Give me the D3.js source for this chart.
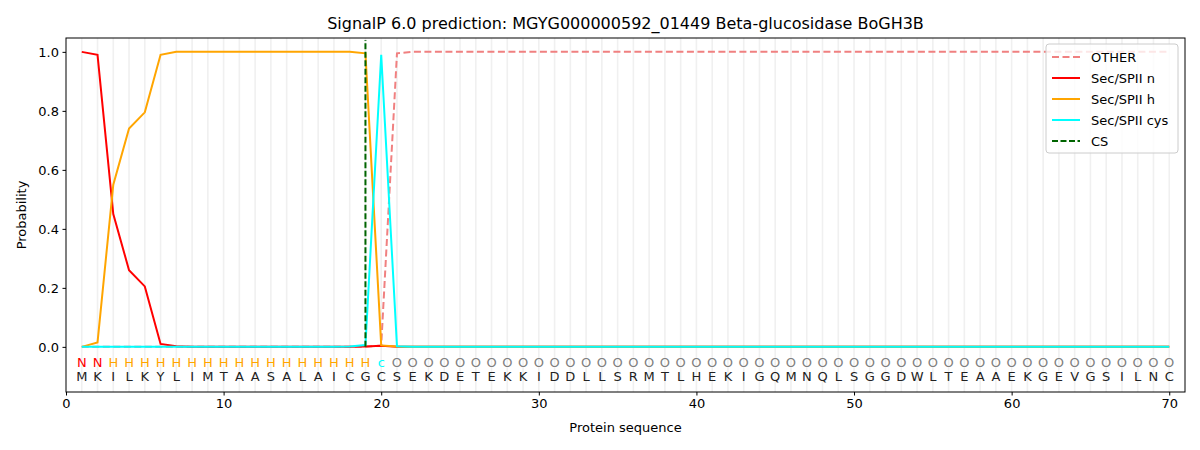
<!DOCTYPE html>
<html>
<head>
<meta charset="utf-8">
<script src="https://cdn.jsdelivr.net/npm/d3@7"></script>
<style>
body { margin: 0; background: #fff; }
text { font-family: "DejaVu Sans", sans-serif; }
</style>
</head>
<body>
<div id="chart"></div>
<script>
// donnees
var sequence = "MKILKYLIMTAASALAICGCSEKDETEKKIDDLLSRMTLHEKIGQMNQLSGGDWLTEAAEKGEVGSILNC".split("");
var regions = "NNHHHHHHHHHHHHHHHHHcOOOOOOOOOOOOOOOOOOOOOOOOOOOOOOOOOOOOOOOOOOOOOOOOOOOO".slice(0, 70).split("");
var positions = d3.range(1, 71);

var otherVals = [0, 0, 0, 0, 0, 0, 0, 0, 0, 0, 0, 0, 0, 0, 0, 0, 0, 0, 0, 0.005, 0.995]
    .concat(d3.range(21, 70).map(function () { return 1.0; }));
var nVals = [1.0, 0.99, 0.45, 0.26, 0.205, 0.01, 0.002, 0, 0, 0, 0, 0, 0, 0, 0, 0, 0, 0, 0.001, 0.004, 0]
    .concat(d3.range(21, 70).map(function () { return 0; }));
var hVals = [0.0, 0.015, 0.55, 0.74, 0.795, 0.99, 1.0, 1.0, 1.0, 1.0, 1.0, 1.0, 1.0, 1.0, 1.0, 1.0, 1.0, 1.0, 0.995, 0.005, 0.001]
    .concat(d3.range(21, 70).map(function () { return 0; }));
var cysVals = [0, 0, 0, 0, 0, 0, 0, 0, 0, 0, 0, 0, 0, 0, 0, 0, 0, 0.001, 0.006, 0.99, 0.002]
    .concat(d3.range(21, 70).map(function () { return 0; }));
var csPos = 19;

var xTicks = [0, 10, 20, 30, 40, 50, 60, 70];
var yTicks = [0.0, 0.2, 0.4, 0.6, 0.8, 1.0];

var series = [
    { name: "OTHER", values: otherVals, color: "#f08080", dash: "7,3.5" },
    { name: "Sec/SPII n", values: nVals, color: "red", dash: null },
    { name: "Sec/SPII h", values: hVals, color: "orange", dash: null },
    { name: "Sec/SPII cys", values: cysVals, color: "cyan", dash: null }
];
var regionColor = { N: "red", H: "orange", c: "cyan", O: "gray" };

var width = 1200, height = 450;
var margin = { left: 66, right: 15, top: 38, bottom: 58 };

var svg = d3.select("#chart").append("svg")
    .attr("width", width)
    .attr("height", height);

var x = d3.scaleLinear().domain([0, 71]).range([margin.left, width - margin.right]);
var y = d3.scaleLinear().domain([-0.153, 1.047]).range([height - margin.bottom, margin.top]);

// grille verticale
svg.append("g").selectAll("line").data(positions).enter().append("line")
    .attr("x1", function (d) { return x(d); })
    .attr("x2", function (d) { return x(d); })
    .attr("y1", y.range()[0])
    .attr("y2", y.range()[1])
    .attr("stroke", "#f0f0f0")
    .attr("stroke-width", 1.6);

var line = d3.line()
    .x(function (d, i) { return x(positions[i]); })
    .y(function (d) { return y(d); });

series.forEach(function (s) {
    svg.append("path")
        .datum(s.values)
        .attr("d", line)
        .attr("fill", "none")
        .attr("stroke", s.color)
        .attr("stroke-width", 2)
        .attr("stroke-dasharray", s.dash);
});

// ligne CS
svg.append("line")
    .attr("x1", x(csPos)).attr("x2", x(csPos))
    .attr("y1", y(0)).attr("y2", y(1.04))
    .attr("stroke", "darkgreen")
    .attr("stroke-width", 2)
    .attr("stroke-dasharray", "6,2.5");

// lettres
svg.append("g").selectAll("text").data(regions).enter().append("text")
    .attr("x", function (d, i) { return x(positions[i]); })
    .attr("y", y(-0.05) + 5)
    .attr("text-anchor", "middle")
    .attr("font-size", 13)
    .attr("fill", function (d) { return regionColor[d]; })
    .text(function (d) { return d; });

svg.append("g").selectAll("text").data(sequence).enter().append("text")
    .attr("x", function (d, i) { return x(positions[i]); })
    .attr("y", y(-0.1) + 5)
    .attr("text-anchor", "middle")
    .attr("font-size", 13)
    .attr("fill", "#222")
    .text(function (d) { return d; });

// cadre
svg.append("rect")
    .attr("x", margin.left).attr("y", margin.top)
    .attr("width", width - margin.left - margin.right)
    .attr("height", height - margin.top - margin.bottom)
    .attr("fill", "none")
    .attr("stroke", "#000")
    .attr("stroke-width", 1);

var xAxis = svg.append("g")
    .attr("transform", "translate(0," + (height - margin.bottom) + ")")
    .call(d3.axisBottom(x).tickValues(xTicks).tickSize(3.5).tickPadding(3.5).tickFormat(d3.format("d")));
var yAxis = svg.append("g")
    .attr("transform", "translate(" + margin.left + ",0)")
    .call(d3.axisLeft(y).tickValues(yTicks).tickSize(3.5).tickPadding(3.5).tickFormat(d3.format(".1f")));
[xAxis, yAxis].forEach(function (a) {
    a.select(".domain").remove();
    a.selectAll("text").attr("font-size", 13).attr("fill", "#000").style("font-family", "DejaVu Sans");
    a.selectAll("line").attr("stroke", "#000");
});

svg.append("text")
    .attr("x", (margin.left + width - margin.right) / 2)
    .attr("y", 29)
    .attr("text-anchor", "middle")
    .attr("font-size", 16)
    .text("SignalP 6.0 prediction: MGYG000000592_01449 Beta-glucosidase BoGH3B");

svg.append("text")
    .attr("x", (margin.left + width - margin.right) / 2)
    .attr("y", 432)
    .attr("text-anchor", "middle")
    .attr("font-size", 13)
    .text("Protein sequence");

svg.append("text")
    .attr("transform", "translate(26," + ((margin.top + height - margin.bottom) / 2) + ") rotate(-90)")
    .attr("text-anchor", "middle")
    .attr("font-size", 13)
    .text("Probability");

// legende
var legendItems = series.map(function (s) { return { name: s.name, color: s.color, dash: s.dash }; })
    .concat([{ name: "CS", color: "darkgreen", dash: "6,2.5" }]);
var lg = svg.append("g").attr("transform", "translate(1046,44)");
lg.append("rect")
    .attr("width", 132).attr("height", 109)
    .attr("rx", 3)
    .attr("fill", "#fff").attr("fill-opacity", 0.8)
    .attr("stroke", "#ccc");
legendItems.forEach(function (d, i) {
    var yy = 13 + i * 21;
    lg.append("line")
        .attr("x1", 6).attr("x2", 34).attr("y1", yy).attr("y2", yy)
        .attr("stroke", d.color).attr("stroke-width", 2)
        .attr("stroke-dasharray", d.dash);
    lg.append("text")
        .attr("x", 45).attr("y", yy + 4.5)
        .attr("font-size", 13)
        .text(d.name);
});
</script>
</body>
</html>
